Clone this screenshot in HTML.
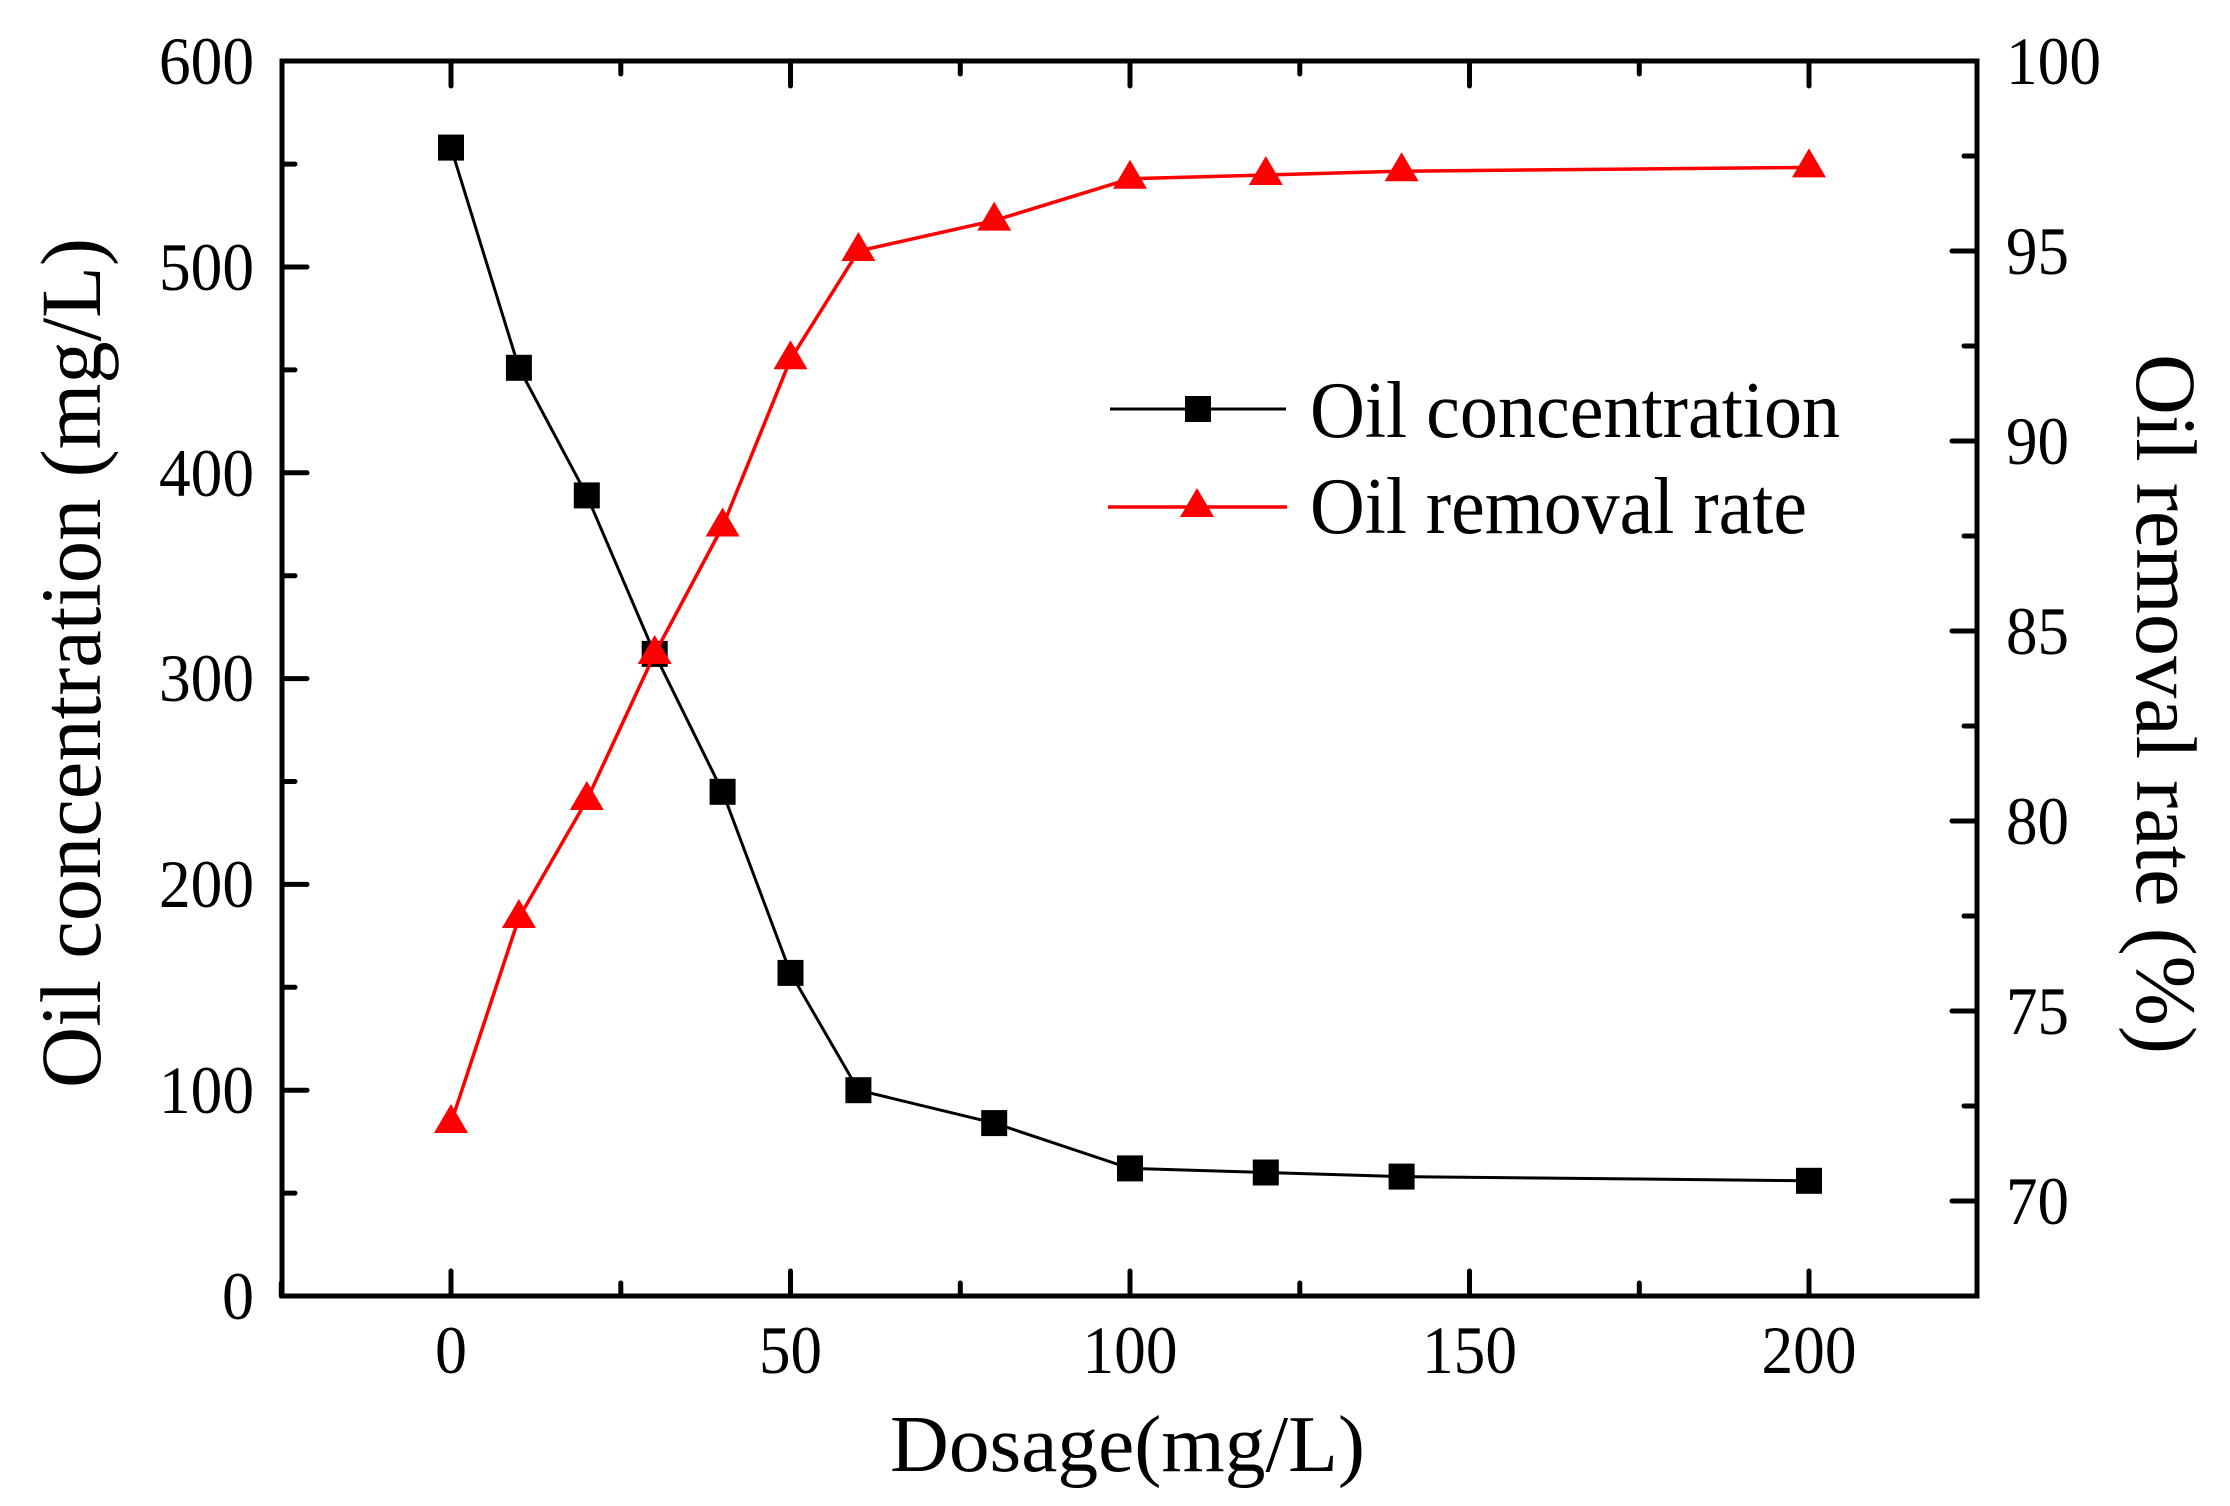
<!DOCTYPE html>
<html><head><meta charset="utf-8"><style>
html,body{margin:0;padding:0;background:#fff;}
svg{display:block;}
text{font-family:"Liberation Serif",serif;fill:#000;}
</style></head><body>
<svg width="2230" height="1506" viewBox="0 0 2230 1506" xmlns="http://www.w3.org/2000/svg">
<rect width="2230" height="1506" fill="#fff"/>
<g stroke="#000" stroke-width="5" stroke-linecap="round">
<path d="M451 1296V1271 M790.5 1296V1271 M1130 1296V1271 M1469.5 1296V1271 M1809 1296V1271
M281.3 1296V1283 M620.8 1296V1283 M960.3 1296V1283 M1299.8 1296V1283 M1639.3 1296V1283
M451 61V86 M790.5 61V86 M1130 61V86 M1469.5 61V86 M1809 61V86
M620.8 61V74 M960.3 61V74 M1299.8 61V74 M1639.3 61V74"/>
<path d="M282 1296H307 M282 1090.2H307 M282 884.4H307 M282 678.6H307 M282 472.8H307 M282 267H307 M282 61H307
M282 1193.1H295 M282 987.3H295 M282 781.5H295 M282 575.7H295 M282 369.9H295 M282 164.1H295"/>
<path d="M1977 1201H1952 M1977 1011H1952 M1977 821H1952 M1977 631H1952 M1977 441H1952 M1977 251H1952 M1977 61H1952
M1977 1296H1964 M1977 1106H1964 M1977 916H1964 M1977 726H1964 M1977 536H1964 M1977 346H1964 M1977 156H1964"/>
</g>
<rect x="282" y="61" width="1695" height="1235" fill="none" stroke="#000" stroke-width="5"/>
<polyline fill="none" stroke="#000" stroke-width="3" points="451,147.6 518.9,367.8 586.8,495.4 654.7,653.9 722.6,791.8 790.5,972.9 858.4,1090.2 994.2,1123.1 1130,1168.4 1265.8,1172.5 1401.6,1176.6 1809,1180.8"/>
<g fill="#000">
<rect x="438" y="134.6" width="26" height="26"/>
<rect x="505.9" y="354.8" width="26" height="26"/>
<rect x="573.8" y="482.4" width="26" height="26"/>
<rect x="641.7" y="640.9" width="26" height="26"/>
<rect x="709.6" y="778.8" width="26" height="26"/>
<rect x="777.5" y="959.9" width="26" height="26"/>
<rect x="845.4" y="1077.2" width="26" height="26"/>
<rect x="981.2" y="1110.1" width="26" height="26"/>
<rect x="1117" y="1155.4" width="26" height="26"/>
<rect x="1252.8" y="1159.5" width="26" height="26"/>
<rect x="1388.6" y="1163.6" width="26" height="26"/>
<rect x="1796" y="1167.8" width="26" height="26"/>
</g>
<polyline fill="none" stroke="#f00" stroke-width="3.5" points="451,1123 518.9,917.9 586.8,800.1 654.7,653.8 722.6,526.5 790.5,359.3 858.4,251 994.2,220.6 1130,178.8 1265.8,175 1401.6,171.2 1809,167.4"/>
<g fill="#f00">
<path d="M451 1104l17 29h-34z"/>
<path d="M518.9 899l17 29h-34z"/>
<path d="M586.8 781l17 29h-34z"/>
<path d="M654.7 635l17 29h-34z"/>
<path d="M722.6 507.5l17 29h-34z"/>
<path d="M790.5 340.3l17 29h-34z"/>
<path d="M858.4 232l17 29h-34z"/>
<path d="M994.2 201.6l17 29h-34z"/>
<path d="M1130 159.8l17 29h-34z"/>
<path d="M1265.8 156l17 29h-34z"/>
<path d="M1401.6 152.2l17 29h-34z"/>
<path d="M1809 148.4l17 29h-34z"/>
</g>
<g font-size="68" text-anchor="end">
<text x="254" y="1319" textLength="32" lengthAdjust="spacingAndGlyphs">0</text>
<text x="254" y="1113" textLength="95" lengthAdjust="spacingAndGlyphs">100</text>
<text x="254" y="907" textLength="95" lengthAdjust="spacingAndGlyphs">200</text>
<text x="254" y="701" textLength="95" lengthAdjust="spacingAndGlyphs">300</text>
<text x="254" y="496" textLength="95" lengthAdjust="spacingAndGlyphs">400</text>
<text x="254" y="290" textLength="95" lengthAdjust="spacingAndGlyphs">500</text>
<text x="254" y="84" textLength="95" lengthAdjust="spacingAndGlyphs">600</text>
</g>
<g font-size="68" text-anchor="start">
<text x="2006" y="1224" textLength="63" lengthAdjust="spacingAndGlyphs">70</text>
<text x="2006" y="1034" textLength="63" lengthAdjust="spacingAndGlyphs">75</text>
<text x="2006" y="844" textLength="63" lengthAdjust="spacingAndGlyphs">80</text>
<text x="2006" y="654" textLength="63" lengthAdjust="spacingAndGlyphs">85</text>
<text x="2006" y="464" textLength="63" lengthAdjust="spacingAndGlyphs">90</text>
<text x="2006" y="274" textLength="63" lengthAdjust="spacingAndGlyphs">95</text>
<text x="2006" y="84" textLength="95" lengthAdjust="spacingAndGlyphs">100</text>
</g>
<g font-size="68" text-anchor="middle">
<text x="451" y="1373" textLength="32" lengthAdjust="spacingAndGlyphs">0</text>
<text x="790.5" y="1373" textLength="63" lengthAdjust="spacingAndGlyphs">50</text>
<text x="1130" y="1373" textLength="95" lengthAdjust="spacingAndGlyphs">100</text>
<text x="1469.5" y="1373" textLength="95" lengthAdjust="spacingAndGlyphs">150</text>
<text x="1809" y="1373" textLength="95" lengthAdjust="spacingAndGlyphs">200</text>
</g>
<text x="890" y="1471" font-size="80" textLength="475" lengthAdjust="spacingAndGlyphs">Dosage(mg/L)</text>
<text transform="translate(100,1088) rotate(-90)" font-size="86" textLength="850" lengthAdjust="spacingAndGlyphs">Oil concentration (mg/L)</text>
<text transform="translate(2137,354) rotate(90)" font-size="86" textLength="700" lengthAdjust="spacingAndGlyphs">Oil removal rate (%)</text>
<line x1="1110" y1="409" x2="1286" y2="409" stroke="#000" stroke-width="3"/>
<rect x="1185" y="396" width="26" height="26" fill="#000"/>
<line x1="1108" y1="507" x2="1287" y2="507" stroke="#f00" stroke-width="3.5"/>
<path d="M1197 488l17 29h-34z" fill="#f00"/>
<text x="1310" y="437" font-size="80" textLength="530" lengthAdjust="spacingAndGlyphs">Oil concentration</text>
<text x="1310" y="533" font-size="80" textLength="497" lengthAdjust="spacingAndGlyphs">Oil removal rate</text>
</svg>
</body></html>
